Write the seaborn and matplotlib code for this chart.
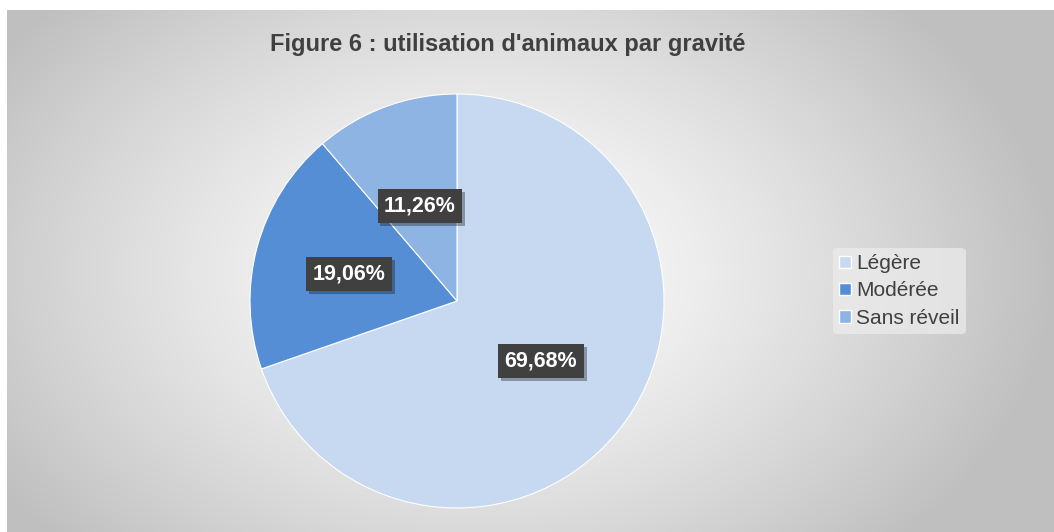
import numpy as np
import matplotlib
matplotlib.use("Agg")
import matplotlib.pyplot as plt
import matplotlib.patheffects as pe
import seaborn as sns

categories = ["Légère", "Modérée", "Sans réveil"]
values = [69.68, 19.06, 11.26]
labels = ["69,68%", "19,06%", "11,26%"]
colors = ["#C6D9F1", "#558ED5", "#8DB4E2"]
title = "Figure 6 : utilisation d'animaux par gravité"

sns.set_theme(style="white")
plt.rcParams['font.family'] = ['Liberation Sans', 'DejaVu Sans']

W, H = 1054, 532
fig = plt.figure(figsize=(W / 100, H / 100), dpi=100)
fig.patch.set_facecolor("white")

# background with radial gradient
bg = fig.add_axes([7 / W, 0, 1 - 7 / W, 1 - 10 / H])
ny, nx = 300, 600
yy, xx = np.mgrid[0:ny, 0:nx]
cx, cy = nx * 0.45, ny * 0.5
d = np.sqrt(((xx - cx) / (nx * 0.55)) ** 2 + ((yy - cy) / (ny * 0.75)) ** 2)
d = np.clip(d, 0, 1)
val = 1.0 - 0.25 * d ** 1.3
img = np.dstack([val, val, val])
bg.imshow(img, aspect="auto", extent=[0, 1, 0, 1], interpolation="bilinear")
bg.set_axis_off()

# pie
r = 207
pcx, pcy = 457, 301
ax = fig.add_axes([(pcx - r) / W, (H - pcy - r) / H, 2 * r / W, 2 * r / H])
wedges, _ = ax.pie(values, colors=colors, startangle=90, counterclock=False,
                   radius=1.0, wedgeprops=dict(edgecolor="white", linewidth=0.8))
ax.set_xlim(-1, 1)
ax.set_ylim(-1, 1)
ax.set_aspect("auto")
ax.set_axis_off()

label_pos = [(0.406, -0.29), (-0.522, 0.130), (-0.179, 0.459)]
for (lx, ly), t in zip(label_pos, labels):
    ax.text(lx, ly, t, ha="center", va="center", color="white", fontsize=15.5,
            fontweight="bold",
            bbox=dict(boxstyle="square,pad=0.3", facecolor="#404040", edgecolor="none",
                      path_effects=[pe.withSimplePatchShadow(offset=(2, -2), alpha=0.35)]))

fig.text(508 / W, 1 - 45 / H, title, ha="center", va="center", fontsize=17,
         fontweight="bold", color="#404040")

handles = [plt.Rectangle((0, 0), 1, 1, facecolor=c) for c in colors]
leg = fig.legend(handles, categories, loc="center left", bbox_to_anchor=(833 / W, 1 - 291 / H),
                 frameon=True, fontsize=15, handlelength=0.55, handleheight=0.55,
                 handletextpad=0.25, labelspacing=0.4, borderpad=0.3, borderaxespad=0)
leg.get_frame().set_facecolor("#EDEDED")
leg.get_frame().set_edgecolor("none")
leg.get_frame().set_alpha(0.7)
for t in leg.get_texts():
    t.set_color("#404040")

fig.savefig("out.png", dpi=100, facecolor="white")
